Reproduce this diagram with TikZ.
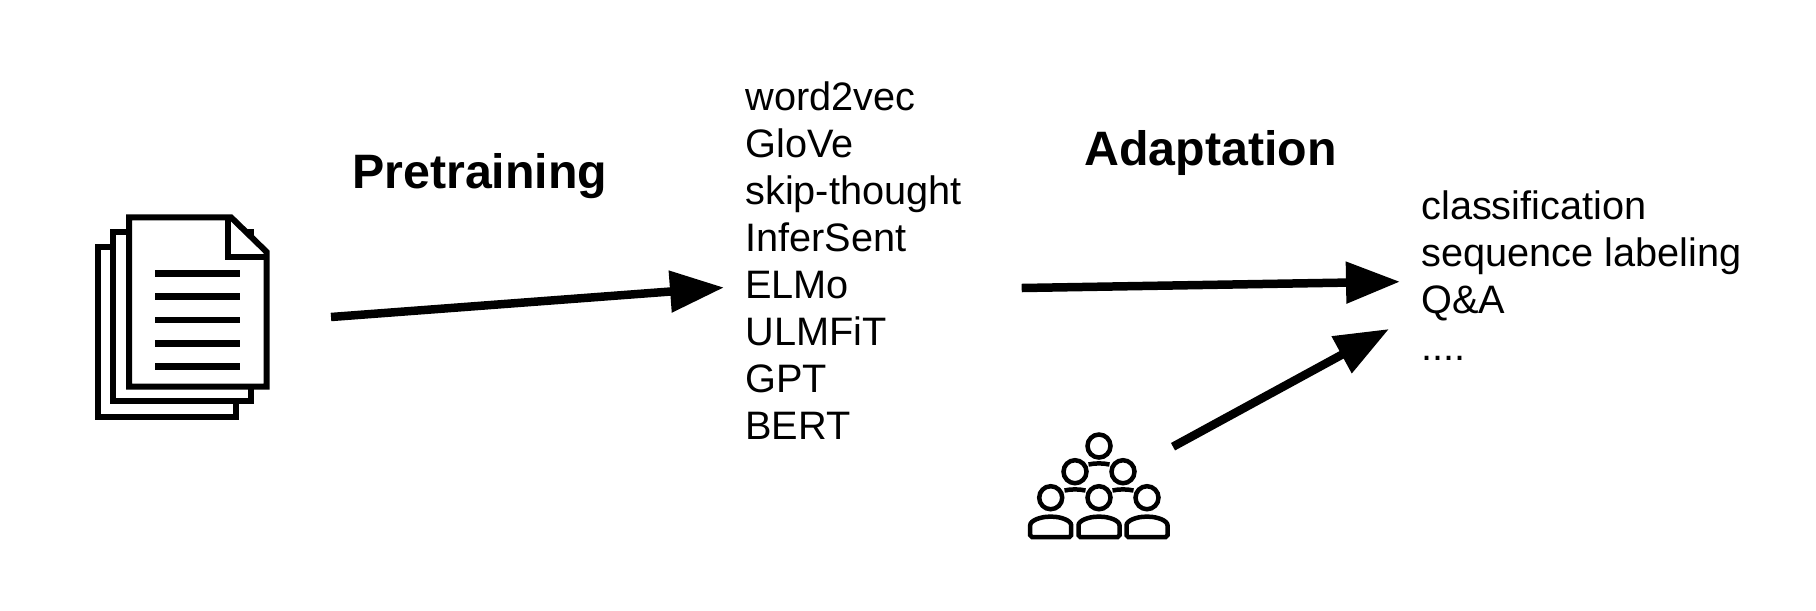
\documentclass[tikz,border=0pt]{standalone}
\usepackage{fontspec}
\setmainfont{Liberation Sans}
\usetikzlibrary{arrows.meta}
\tikzset{
  flow/.style={line width=0.17cm,-{Triangle[length=1.08cm,width=0.8cm]}},
  sheet/.style={draw,fill=white,line width=0.12cm,miter limit=4},
  crowd/.style={draw,line width=0.09cm},
  listing/.style={align=left,inner sep=0pt,anchor=north west,font=\fontsize{22.6}{26.8}\selectfont},
  heading/.style={inner sep=0pt,anchor=base west,font=\fontsize{27.5}{30}\selectfont\bfseries}
}
\begin{document}
\begin{tikzpicture}[x=0.02cm,y=-0.02cm]
\useasboundingbox (0,0) rectangle (1816,610);
% stack of pages
\draw[sheet] (97.7,246.7) rectangle (235.7,416.7);
\draw[sheet] (112.7,231.7) rectangle (251,401);
\draw[sheet] (129,217.3)--(231,217.3)--(266.7,252)--(266.7,386.7)--(129,386.7)--cycle;
\draw[line width=0.12cm] (227.7,217.3)--(227.7,256.7)--(266.7,256.7);
\foreach \ly in {273.3,296.7,320,343.3,366.7}
  \draw[line width=0.13cm] (155.3,\ly)--(240.3,\ly);
% audience
\foreach \hx/\hy in {1099/446,1075/471.7,1123/471.7,1050.7/497.7,1099/497.7,1147/497.7}
  \draw[crowd] (\hx,\hy) circle (11.5);
\foreach \hx/\hy in {1099/463.5,1075/489.5,1123/489.5}
  \draw[crowd] (\hx-10.5,\hy+1) .. controls (\hx-4,\hy-0.5) and (\hx+4,\hy-0.5) .. (\hx+10.5,\hy+1);
\foreach \hx in {1050.7,1099,1147}
  \draw[crowd,rounded corners=1pt] (\hx-20.5,537)--(\hx-20.5,527) .. controls (\hx-20.5,520.5) and (\hx-10,516.7) .. (\hx,516.7)
    .. controls (\hx+10,516.7) and (\hx+20.5,520.5) .. (\hx+20.5,527)--(\hx+20.5,537)--cycle;
% texts
\node[heading] (pretrain) at (352,188) {Pretraining};
\node[heading] (adapt) at (1084,165) {Adaptation};
\node[listing] (models) at (745,81) {word2vec\\GloVe\\skip-thought\\InferSent\\ELMo\\ULMFiT\\GPT\\BERT};
\node[listing] (tasks) at (1421,190) {classification\\sequence labeling\\Q\&A\\....};
% arrows
\coordinate (docsout) at (331,317);
\coordinate (modelsin) at (724,287.5);
\coordinate (modelsout) at (1021.7,288);
\coordinate (tasksin) at (1400,281.7);
\coordinate (crowdout) at (1173,446.7);
\coordinate (crowdin) at (1389,329);
\draw[flow] (docsout)--(modelsin);
\draw[flow] (modelsout)--(tasksin);
\draw[flow] (crowdout)--(crowdin);
\end{tikzpicture}
\end{document}
